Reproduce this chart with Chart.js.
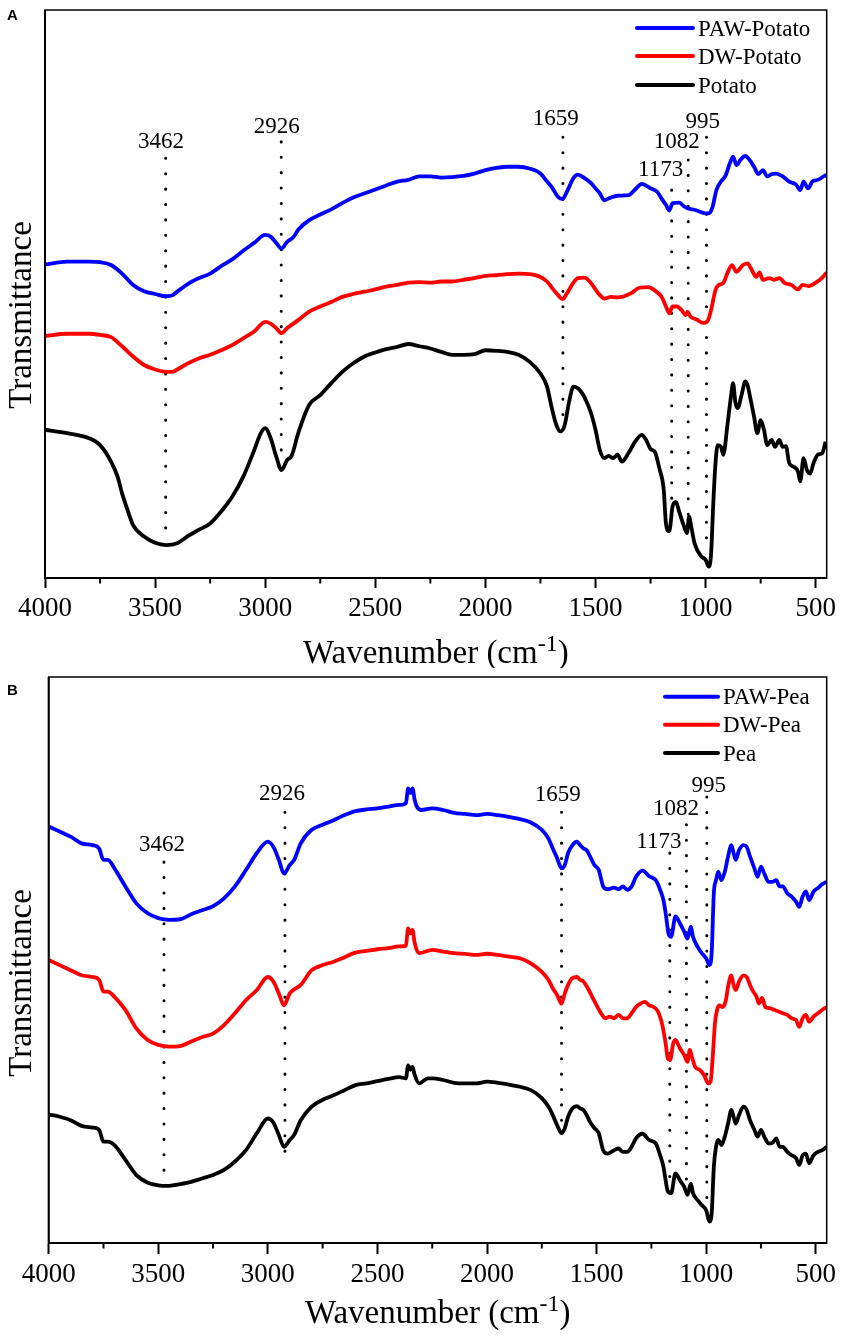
<!DOCTYPE html>
<html><head><meta charset="utf-8">
<script src="https://cdn.jsdelivr.net/npm/chart.js@4.4.1/dist/chart.umd.min.js"></script>
<style>
html,body{margin:0;padding:0;background:#fff;overflow:hidden;}
#wrap{position:relative;width:841px;height:1339px;overflow:hidden;background:#fff;}
.panel{position:absolute;left:0;width:841px;}
</style></head><body>
<div id="wrap">
<div class="panel" style="top:0;height:668px"><canvas id="ca"></canvas></div>
<div class="panel" style="top:668px;height:671px"><canvas id="cb"></canvas></div>
</div>
<script>
// ---------- DATA ----------
const xTicks = [4000, 3500, 3000, 2500, 2000, 1500, 1000, 500];
const xMinorTicks = [3750, 3250, 2750, 2250, 1750, 1250, 750];
const xMin = 450, xMax = 4000;
const yMin = 0, yMax = 100;

// Panel A series: [wavenumber, transmittance (a.u.)]
const pawPotato = [[4000,55.2],[3900,55.7],[3800,55.7],[3750,55.6],[3700,55.1],[3650,53.6],[3600,51.6],[3550,50.5],[3500,50.0],[3450,49.6],[3420,49.8],[3400,50.4],[3350,51.8],[3300,52.8],[3250,53.6],[3200,54.9],[3150,56.1],[3100,57.6],[3050,59.0],[3000,60.4],[2975,60.1],[2950,59.0],[2926,58.0],[2900,59.2],[2870,60.1],[2850,61.3],[2800,63.0],[2750,64.0],[2700,64.9],[2650,66.0],[2600,67.0],[2550,67.7],[2500,68.4],[2450,69.1],[2400,69.8],[2350,70.1],[2300,70.7],[2250,70.7],[2200,70.5],[2100,70.8],[2050,71.2],[2000,71.8],[1950,72.2],[1900,72.4],[1850,72.4],[1800,72.1],[1750,71.2],[1720,69.8],[1700,68.9],[1670,67.1],[1650,66.7],[1630,68.0],[1600,70.4],[1580,71.0],[1550,70.4],[1520,69.5],[1500,68.6],[1480,67.7],[1460,66.5],[1430,67.0],[1400,67.3],[1350,67.4],[1320,68.4],[1290,69.4],[1250,68.6],[1220,68.0],[1200,66.8],[1180,65.7],[1165,64.7],[1150,66.0],[1120,66.1],[1100,65.5],[1082,65.1],[1060,64.9],[1040,64.7],[1000,64.2],[985,64.2],[970,65.1],[950,68.4],[930,69.8],[910,70.8],[890,73.0],[875,74.2],[860,72.7],[840,73.7],[820,74.3],[800,73.6],[780,72.4],[760,71.1],[740,71.8],[720,70.7],[700,71.1],[680,71.2],[650,70.7],[620,69.8],[590,69.3],[570,68.3],[555,69.8],[535,68.6],[515,69.8],[490,70.1],[460,70.8],[450,71.0]];
const dwPotato = [[4000,42.6],[3900,43.0],[3800,43.0],[3750,42.8],[3700,42.4],[3650,40.8],[3600,39.0],[3550,37.5],[3500,36.7],[3450,36.3],[3420,36.3],[3400,36.7],[3350,37.8],[3300,38.7],[3250,39.3],[3200,40.1],[3150,41.0],[3100,42.2],[3050,43.4],[3000,45.1],[2975,44.8],[2950,44.0],[2926,43.1],[2900,44.0],[2850,45.4],[2800,46.9],[2750,47.8],[2700,48.6],[2650,49.5],[2600,50.0],[2550,50.4],[2500,50.8],[2450,51.3],[2400,51.6],[2350,52.0],[2300,52.1],[2250,52.0],[2200,52.2],[2150,52.2],[2100,52.5],[2050,52.8],[2000,53.2],[1950,53.3],[1900,53.5],[1850,53.6],[1800,53.5],[1750,53.0],[1720,52.2],[1700,51.2],[1670,49.8],[1650,49.1],[1630,50.1],[1600,52.0],[1580,52.8],[1550,52.9],[1520,51.9],[1500,50.8],[1480,49.8],[1460,49.2],[1430,49.5],[1400,49.4],[1370,49.6],[1340,50.1],[1300,51.1],[1260,51.2],[1230,50.6],[1200,49.5],[1180,47.8],[1165,46.6],[1150,47.8],[1130,47.8],[1110,47.2],[1090,46.3],[1082,46.9],[1070,46.1],[1040,45.5],[1010,44.9],[990,45.3],[975,47.2],[955,50.7],[940,51.6],[920,51.9],[900,53.8],[880,55.1],[860,53.9],[830,55.1],[810,55.4],[790,54.2],[770,53.0],[755,53.8],[740,52.5],[710,52.8],[690,52.5],[665,52.8],[640,51.9],[610,51.6],[580,50.8],[560,51.6],[530,51.4],[500,52.0],[470,52.9],[450,53.8]];
const potato = [[4000,26.1],[3900,25.5],[3800,24.6],[3750,23.4],[3700,20.5],[3670,17.8],[3650,14.9],[3620,11.4],[3600,9.3],[3550,7.3],[3500,6.2],[3450,5.8],[3400,6.1],[3350,7.4],[3300,8.5],[3250,9.6],[3200,11.7],[3150,14.3],[3100,17.8],[3050,22.5],[3020,25.5],[3000,26.4],[2975,24.6],[2950,21.4],[2926,19.0],[2900,20.8],[2880,21.5],[2850,25.5],[2800,30.5],[2750,32.2],[2700,34.3],[2650,36.3],[2600,37.8],[2550,39.0],[2500,39.7],[2450,40.3],[2400,40.7],[2350,41.2],[2300,40.8],[2250,40.4],[2200,39.8],[2150,39.3],[2100,39.3],[2050,39.4],[2000,40.1],[1950,40.0],[1900,39.8],[1850,39.3],[1800,38.1],[1750,36.0],[1720,33.7],[1700,30.2],[1680,27.2],[1660,25.8],[1640,26.9],[1620,31.0],[1600,33.7],[1580,33.4],[1560,32.5],[1540,31.0],[1520,29.0],[1500,26.1],[1480,22.5],[1460,21.1],[1440,21.5],[1420,21.1],[1400,21.7],[1380,20.5],[1350,22.0],[1320,24.0],[1290,25.2],[1270,24.3],[1250,22.7],[1230,22.2],[1210,19.3],[1190,15.5],[1180,9.6],[1165,8.2],[1150,12.6],[1135,13.4],[1120,11.7],[1100,9.3],[1085,7.9],[1075,10.8],[1065,9.0],[1050,6.1],[1020,3.8],[1000,3.2],[985,2.0],[975,4.3],[965,13.2],[955,20.2],[945,23.4],[930,23.1],[920,21.7],[900,27.2],[885,31.9],[875,34.3],[865,31.0],[855,29.9],[835,32.5],[820,34.6],[810,34.0],[795,31.3],[780,28.4],[765,25.5],[750,27.8],[735,26.1],[720,23.4],[700,24.3],[685,23.1],[665,24.3],[650,23.1],[635,23.2],[620,20.2],[600,19.6],[580,18.7],[570,17.0],[555,21.1],[540,19.0],[525,18.4],[510,20.2],[490,21.7],[470,22.0],[455,24.0]];

// Panel B series
const pawPea = [[4000,73.6],[3950,72.7],[3900,71.8],[3850,70.6],[3800,70.3],[3770,69.7],[3750,67.7],[3730,67.7],[3700,66.2],[3650,63.0],[3600,60.0],[3550,58.3],[3500,57.4],[3450,57.1],[3400,57.2],[3350,58.1],[3300,58.8],[3250,59.5],[3200,60.9],[3150,63.0],[3100,65.9],[3050,68.9],[3000,70.9],[2975,70.0],[2950,67.7],[2926,65.3],[2900,66.8],[2880,67.7],[2850,70.6],[2800,73.0],[2750,73.9],[2700,74.7],[2650,75.6],[2600,76.3],[2550,76.6],[2500,76.8],[2450,77.1],[2400,77.4],[2370,77.7],[2360,80.3],[2350,79.5],[2340,80.3],[2330,78.3],[2320,77.1],[2300,76.5],[2250,76.8],[2200,76.5],[2150,76.0],[2100,75.8],[2050,75.6],[2000,75.8],[1950,75.6],[1900,75.3],[1850,74.9],[1800,74.3],[1750,73.0],[1720,71.5],[1700,69.7],[1680,68.0],[1660,66.2],[1645,66.8],[1630,68.9],[1610,70.3],[1590,70.9],[1575,70.3],[1560,69.7],[1545,69.4],[1530,68.3],[1510,66.8],[1490,65.9],[1470,63.0],[1450,62.5],[1420,62.8],[1400,62.5],[1380,63.0],[1360,62.4],[1340,63.0],[1320,64.7],[1290,65.8],[1260,64.8],[1230,64.1],[1210,62.4],[1195,60.6],[1185,58.3],[1170,54.4],[1160,54.1],[1140,57.7],[1120,56.5],[1100,55.0],[1085,53.8],[1070,55.9],[1060,54.1],[1040,52.4],[1020,51.2],[1000,50.3],[985,49.1],[975,51.2],[965,61.8],[955,64.1],[945,65.6],[930,64.1],[915,65.6],[900,68.3],[885,70.3],[875,68.9],[865,67.7],[850,69.4],[830,70.3],[815,70.0],[800,68.3],[780,66.2],[765,64.7],[750,66.5],[735,65.3],[715,63.8],[700,63.8],[680,64.1],[665,63.0],[650,63.0],[630,61.8],[610,61.2],[590,60.3],[575,59.4],[560,61.2],[545,62.1],[530,60.6],[510,62.1],[490,62.7],[470,63.4],[450,63.8]];
const dwPea = [[4000,50.0],[3900,48.2],[3850,47.3],[3800,47.0],[3770,46.5],[3750,44.4],[3730,44.4],[3700,43.5],[3650,41.2],[3600,37.9],[3550,35.9],[3500,35.0],[3450,34.7],[3400,34.8],[3350,35.6],[3300,36.4],[3250,37.0],[3200,38.5],[3150,40.6],[3100,42.9],[3050,44.7],[3000,47.0],[2975,46.2],[2950,44.1],[2926,42.0],[2900,44.1],[2850,45.6],[2800,48.2],[2750,49.1],[2700,49.7],[2650,50.5],[2600,51.3],[2550,51.6],[2500,51.9],[2450,52.1],[2400,52.4],[2370,52.5],[2360,55.6],[2350,54.7],[2340,55.3],[2330,53.0],[2310,51.2],[2250,51.8],[2200,51.5],[2150,51.2],[2100,51.1],[2050,50.9],[2000,51.1],[1950,50.9],[1900,50.6],[1850,50.3],[1800,49.4],[1750,47.9],[1720,46.5],[1700,45.0],[1680,43.8],[1660,42.3],[1645,44.1],[1630,45.6],[1610,46.8],[1590,47.0],[1575,46.5],[1560,46.2],[1540,45.0],[1520,43.5],[1500,42.0],[1480,40.6],[1460,39.7],[1440,40.0],[1420,39.7],[1400,40.3],[1380,39.7],[1360,39.7],[1340,40.6],[1320,41.7],[1300,42.3],[1280,42.6],[1260,42.0],[1240,41.7],[1220,40.9],[1200,38.5],[1185,35.3],[1175,32.6],[1165,32.3],[1150,35.3],[1140,35.9],[1120,34.4],[1100,33.2],[1085,32.0],[1075,34.1],[1065,32.9],[1050,31.1],[1030,30.6],[1010,29.7],[990,28.2],[980,28.5],[970,32.9],[960,38.8],[950,41.2],[940,42.0],[925,41.7],[910,42.9],[900,45.3],[885,47.3],[875,45.6],[865,44.7],[850,46.2],[830,47.3],[815,47.0],[800,45.6],[785,44.4],[770,43.5],[760,42.3],[745,43.3],[730,41.7],[710,41.5],[690,41.2],[670,40.9],[650,40.6],[630,40.3],[610,39.7],[590,39.4],[575,38.2],[560,39.7],[545,40.3],[530,39.1],[510,40.0],[490,40.6],[470,41.2],[450,41.7]];
const pea = [[4000,22.7],[3950,22.3],[3900,21.7],[3850,20.7],[3800,20.4],[3770,20.0],[3750,17.9],[3730,17.9],[3700,17.3],[3650,14.7],[3600,12.0],[3550,10.7],[3500,10.2],[3450,10.1],[3400,10.4],[3350,10.8],[3300,11.4],[3250,12.0],[3200,12.9],[3150,14.4],[3100,16.4],[3050,19.4],[3000,22.0],[2975,21.3],[2950,19.1],[2926,17.0],[2900,18.2],[2880,19.1],[2850,21.7],[2800,24.1],[2750,25.3],[2700,26.1],[2650,27.0],[2600,27.9],[2550,28.2],[2500,28.6],[2450,29.0],[2400,29.3],[2370,29.1],[2360,31.4],[2350,30.6],[2340,31.1],[2330,29.7],[2310,28.2],[2270,29.1],[2250,29.1],[2200,28.8],[2150,28.3],[2100,28.2],[2050,28.2],[2000,28.5],[1950,28.3],[1900,28.0],[1850,27.6],[1800,27.0],[1750,25.6],[1720,24.1],[1700,22.6],[1680,20.8],[1660,19.4],[1645,20.3],[1630,22.3],[1610,23.8],[1590,24.2],[1575,23.8],[1560,23.5],[1545,22.6],[1530,21.4],[1510,20.3],[1490,19.4],[1470,16.4],[1450,15.8],[1420,16.4],[1400,16.7],[1380,16.1],[1360,16.1],[1340,17.0],[1320,18.5],[1290,19.3],[1260,18.2],[1230,17.6],[1210,15.5],[1195,13.5],[1185,11.1],[1175,9.1],[1160,8.8],[1140,12.3],[1120,11.1],[1100,9.9],[1085,8.5],[1070,10.5],[1060,8.8],[1040,7.6],[1020,6.7],[1000,5.8],[985,3.8],[975,5.2],[965,13.5],[955,17.0],[945,18.2],[930,17.3],[915,18.8],[900,21.1],[885,23.5],[875,22.3],[865,21.1],[850,22.6],[830,24.1],[815,23.5],[800,21.7],[780,20.0],[765,18.8],[750,20.0],[735,18.8],[715,17.6],[700,17.6],[680,18.5],[665,17.0],[650,17.0],[630,16.1],[610,15.5],[590,15.0],[575,13.8],[560,15.5],[545,15.8],[530,14.1],[510,15.5],[490,16.1],[470,16.4],[450,17.0]];

// Peak annotations
const peakLabels = ['3462', '2926', '1659', '1173', '1082', '995'];
const peakPosA = [3452, 2927, 1648, 1154, 1079, 996];
const peakTopA = [73.9, 76.8, 77.6, 68.3, 73.6, 77.6];
const peakBottomA = [8.5, 20.8, 28.3, 12.9, 10.7, 6.2];
const peakLabelXA = [3473, 2947, 1680, 1204, 1131, 1013];
const peakLabelYA = [77.1, 79.8, 81.2, 72.2, 77.1, 80.6];
const peakPosB = [3474, 2922, 1660, 1166, 1090, 997];
const peakTopB = [67.3, 76.1, 76.1, 68.9, 73.9, 78.8];
const peakBottomB = [12.5, 16.1, 21.4, 8.8, 9.4, 5.8];
const peakLabelXB = [3483, 2936, 1677, 1216, 1138, 988];
const peakLabelYB = [70.7, 79.7, 79.5, 71.2, 77.0, 81.1];

const seriesNamesA = ['PAW-Potato', 'DW-Potato', 'Potato'];
const seriesNamesB = ['PAW-Pea', 'DW-Pea', 'Pea'];
const seriesColors = ['#0000ff', '#ff0000', '#000000'];

// ---------- STYLE / LAYOUT ----------
const SERIF = '"Liberation Serif", "Times New Roman", serif';
const SANS = '"Liberation Sans", Arial, sans-serif';

const panelA = {
  letter: 'A', letterX: 7, letterY: 20,
  pad: {left: 45, top: 10, right: 14.3, bottom: 0}, axisHeight: 90,
  tickLen: 10, tickPad: 5, titleOffset: 85, yTitleShift: 21,
  legendX0: 637, legendX1: 693, legendTextX: 698, legendRows: [28, 56, 85],
  series: [pawPotato, dwPotato, potato], names: seriesNamesA,
  peakPos: peakPosA, peakTop: peakTopA, peakBottom: peakBottomA,
  labelX: peakLabelXA, labelY: peakLabelYA
};
const panelB = {
  letter: 'B', letterX: 7, letterY: 27,
  pad: {left: 48.7, top: 9, right: 14.3, bottom: 0}, axisHeight: 96,
  tickLen: 11, tickPad: 5, titleOffset: 80, yTitleShift: 23,
  legendX0: 665, legendX1: 718, legendTextX: 723, legendRows: [28.7, 56.7, 85],
  series: [pawPea, dwPea, pea], names: seriesNamesB,
  peakPos: peakPosB, peakTop: peakTopB, peakBottom: peakBottomB,
  labelX: peakLabelXB, labelY: peakLabelYB
};

const decorPlugin = {
  id: 'decor',
  afterDraw(chart) {
    const P = chart.options.plugins.decor.panel;
    const ctx = chart.ctx;
    const a = chart.chartArea;
    const xs = chart.scales.x, ys = chart.scales.y;
    ctx.save();
    // frame
    ctx.strokeStyle = '#000';
    ctx.lineWidth = 1.5;
    ctx.strokeRect(a.left, a.top, a.right - a.left, a.bottom - a.top);
    ctx.lineWidth = 2;
    ctx.beginPath(); ctx.moveTo(a.left, a.top); ctx.lineTo(a.left, a.bottom + 1); ctx.stroke();
    // minor ticks
    ctx.lineWidth = 2;
    xMinorTicks.forEach(v => {
      const px = xs.getPixelForValue(v);
      ctx.beginPath(); ctx.moveTo(px, a.bottom); ctx.lineTo(px, a.bottom + 5.5); ctx.stroke();
    });
    // peak labels
    ctx.fillStyle = '#000';
    ctx.font = '23px ' + SERIF;
    ctx.textAlign = 'center';
    ctx.textBaseline = 'alphabetic';
    peakLabels.forEach((t, i) => {
      const px = xs.getPixelForValue(P.labelX[i]);
      const py = ys.getPixelForValue(P.labelY[i]);
      ctx.fillText(t, px, py + 0.338 * 23);
    });
    // legend
    P.names.forEach((n, i) => {
      const y = P.legendRows[i];
      ctx.strokeStyle = seriesColors[i];
      ctx.lineWidth = 4;
      ctx.lineCap = 'round';
      ctx.beginPath(); ctx.moveTo(P.legendX0, y); ctx.lineTo(P.legendX1, y); ctx.stroke();
      ctx.fillStyle = '#000';
      ctx.textAlign = 'left';
      ctx.font = '23px ' + SERIF;
      ctx.fillText(n, P.legendTextX, y + 7.5);
    });
    // x title with superscript
    const cx = (a.left + a.right) / 2;
    const by = a.bottom + P.titleOffset;
    const f1 = '33px ' + SERIF, f2 = '24px ' + SERIF;
    ctx.font = f1; const w1 = ctx.measureText('Wavenumber (cm').width; const w3 = ctx.measureText(')').width;
    ctx.font = f2; const w2 = ctx.measureText('-1').width;
    let x0 = cx - (w1 + w2 + w3) / 2;
    ctx.textAlign = 'left';
    ctx.fillStyle = '#000';
    ctx.font = f1; ctx.fillText('Wavenumber (cm', x0, by);
    ctx.font = f2; ctx.fillText('-1', x0 + w1, by - 12);
    ctx.font = f1; ctx.fillText(')', x0 + w1 + w2, by);
    // y title
    ctx.save();
    ctx.translate(31, (a.top + a.bottom) / 2 + P.yTitleShift);
    ctx.rotate(-Math.PI / 2);
    ctx.textAlign = 'center';
    ctx.font = '33px ' + SERIF;
    ctx.fillText('Transmittance', 0, 0);
    ctx.restore();
    // panel letter
    ctx.font = 'bold 15px ' + SANS;
    ctx.textAlign = 'left';
    ctx.fillText(P.letter, P.letterX, P.letterY);
    ctx.restore();
  }
};

function buildChart(canvasId, P) {
  const datasets = [];
  P.series.forEach((s, i) => {
    datasets.push({
      label: P.names[i],
      data: s.map(p => ({x: p[0], y: p[1]})),
      borderColor: seriesColors[i],
      borderWidth: 3.8,
      borderJoinStyle: 'round',
      pointRadius: 0,
      cubicInterpolationMode: 'monotone',
      fill: false
    });
  });
  P.peakPos.forEach((pos, i) => {
    datasets.push({
      label: 'peak ' + peakLabels[i],
      data: [{x: pos, y: P.peakTop[i]}, {x: pos, y: P.peakBottom[i]}],
      borderColor: '#000',
      borderWidth: 3,
      borderDash: [0.1, 15.3],
      borderCapStyle: 'round',
      pointRadius: 0,
      tension: 0,
      fill: false
    });
  });
  return new Chart(document.getElementById(canvasId), {
    type: 'line',
    data: {datasets},
    options: {
      responsive: true,
      maintainAspectRatio: false,
      animation: false,
      layout: {padding: P.pad},
      plugins: {legend: {display: false}, tooltip: {enabled: false}, decor: {panel: P}},
      scales: {
        x: {
          type: 'linear', reverse: true, min: xMin, max: xMax,
          afterBuildTicks: s => { s.ticks = xTicks.map(v => ({value: v})); },
          afterFit: s => { s.height = P.axisHeight; s.paddingLeft = 0; s.paddingRight = 0; },
          ticks: {color: '#000', font: {family: SERIF, size: 27}, padding: P.tickPad, maxRotation: 0, autoSkip: false, callback: v => String(v)},
          grid: {drawOnChartArea: false, drawTicks: true, tickLength: P.tickLen, tickColor: '#000', tickWidth: 2},
          border: {display: true, color: '#000', width: 2}
        },
        y: {type: 'linear', display: false, min: yMin, max: yMax}
      }
    },
    plugins: [decorPlugin]
  });
}

buildChart('ca', panelA);
buildChart('cb', panelB);
</script>
</body></html>
